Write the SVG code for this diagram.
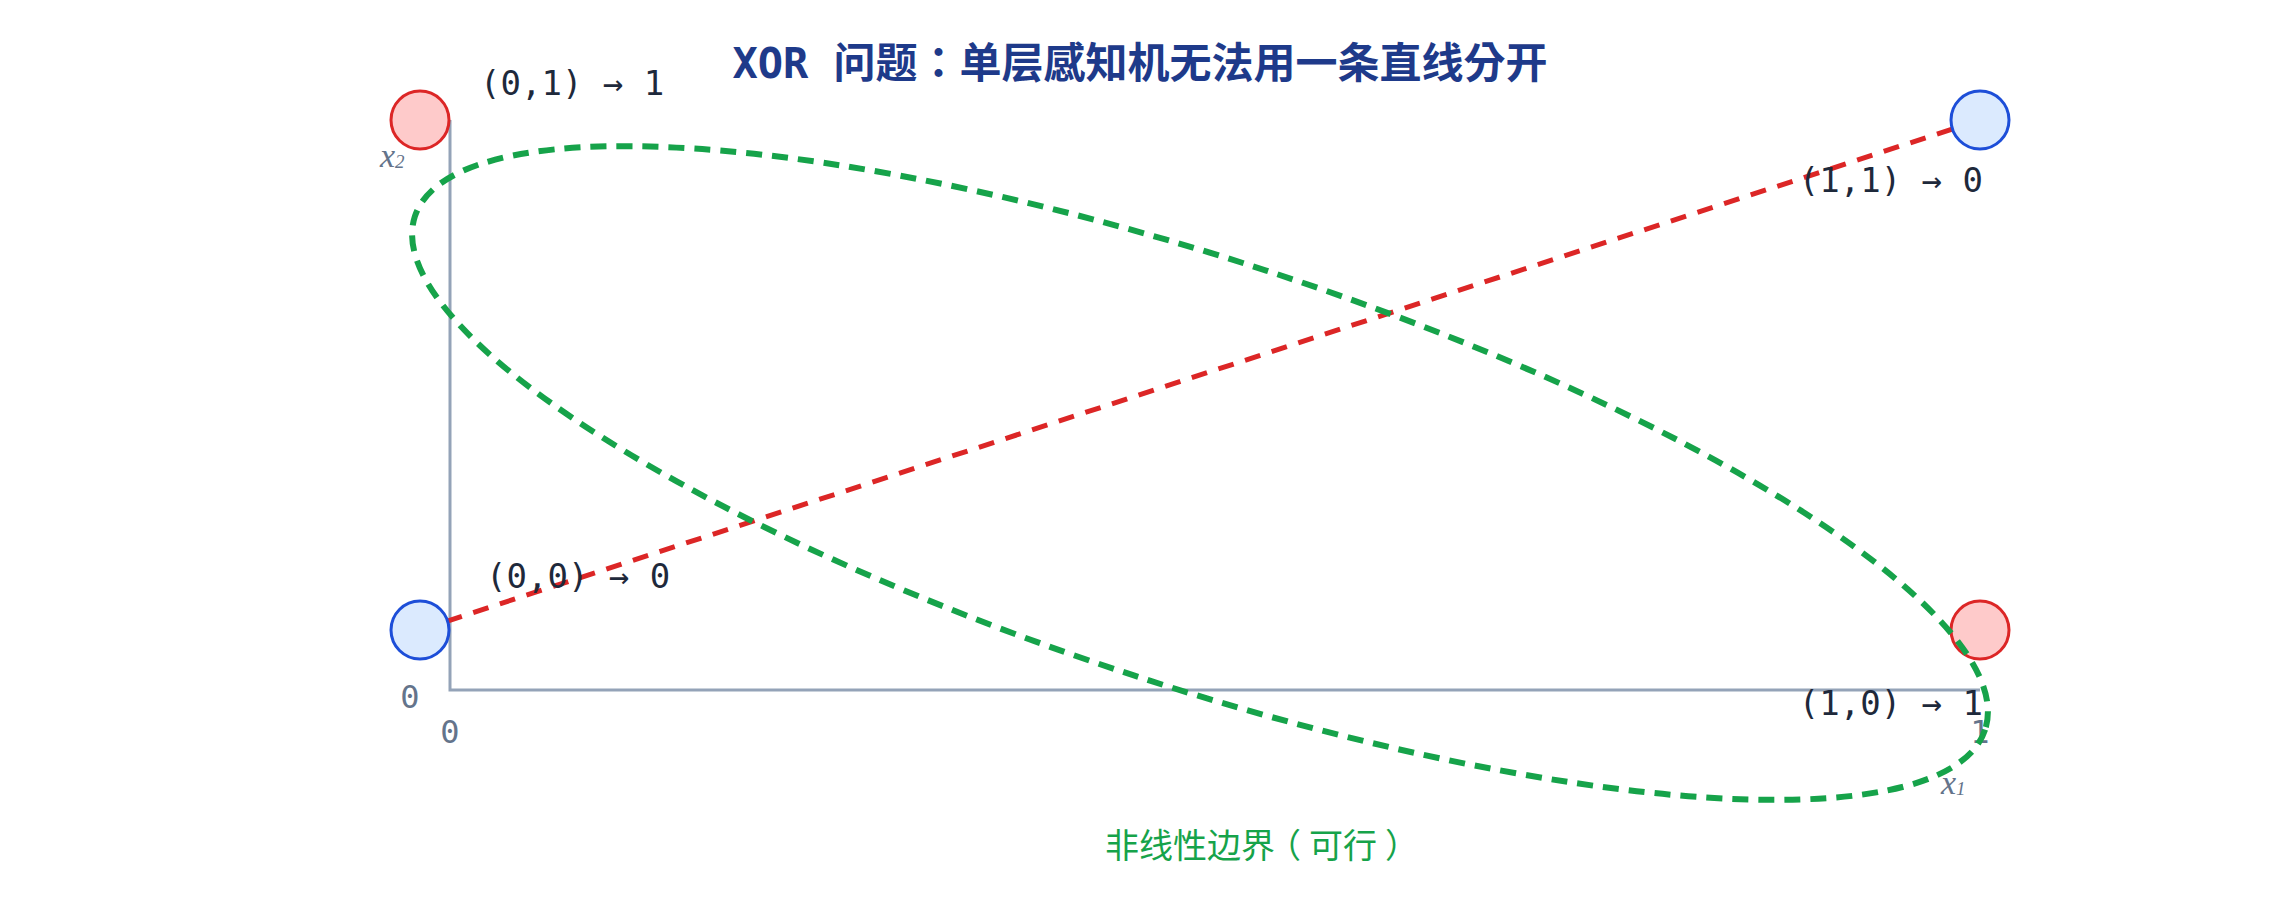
<svg xmlns="http://www.w3.org/2000/svg" width="2280" height="900" viewBox="0 0 2280 900">
<style>
.title{font-family:"DejaVu Sans Mono","Noto Sans CJK TC",monospace;font-weight:bold;font-size:42px;fill:#1e3a8a}
.lbl{font-family:"DejaVu Sans Mono","Noto Sans CJK TC",monospace;font-size:34px;fill:#1e293b}
.tick{font-family:"DejaVu Sans Mono",monospace;font-size:32px;fill:#64748b;text-anchor:middle}
.var{font-family:"Liberation Serif","DejaVu Serif",serif;font-style:italic;font-size:34px;fill:#64748b}
.sub{font-size:19px}
.cap{font-family:"Noto Sans CJK SC",sans-serif;font-size:34px;fill:#16a34a}
.axis{stroke:#94a3b8;stroke-width:3;fill:none}
.pos{fill:#fecaca;stroke:#dc2626;stroke-width:3}
.neg{fill:#dbeafe;stroke:#1d4ed8;stroke-width:3}
.lin{stroke:#dc2626;stroke-width:5;stroke-dasharray:16 12;fill:none}
.bnd{stroke:#16a34a;stroke-width:6;stroke-dasharray:16 10;fill:none}
</style>
<rect width="2280" height="900" fill="#ffffff"/>
<text class="title" x="1140" y="78" text-anchor="middle">XOR 问题：单层感知机无法用一条直线分开</text>
<g id="axes">
<path class="axis" d="M450 120 V690 H1980"/>
<text class="tick" x="410" y="708">0</text>
<text class="tick" x="450" y="743">0</text>
<text class="tick" x="1980" y="743">1</text>
<text class="var" x="380" y="167">x<tspan class="sub" dy="1">2</tspan></text>
<text class="var" x="1941" y="794">x<tspan class="sub" dy="1">1</tspan></text>
</g>
<g id="connectors">
<line class="lin" x1="420" y1="630" x2="1980" y2="120"/>
</g>
<g id="p01"><circle class="pos" cx="420" cy="120" r="29"/><text class="lbl" x="480" y="95">(0,1) → 1</text></g>
<g id="p11"><circle class="neg" cx="1980" cy="120" r="29"/><text class="lbl" x="1983" y="192" text-anchor="end">(1,1) → 0</text></g>
<g id="p00"><circle class="neg" cx="420" cy="630" r="29"/><text class="lbl" x="486" y="588">(0,0) → 0</text></g>
<g id="p10"><circle class="pos" cx="1980" cy="630" r="29"/><text class="lbl" x="1983" y="715" text-anchor="end">(1,0) → 1</text></g>
<g id="boundary">
<ellipse class="bnd" cx="1200" cy="473" rx="826" ry="213" transform="rotate(18.1 1200 473)"/>
<text class="cap" x="1105 1139 1173 1207 1241 1267 1309 1343 1385" y="858">非线性边界（可行）</text>
</g>
</svg>
